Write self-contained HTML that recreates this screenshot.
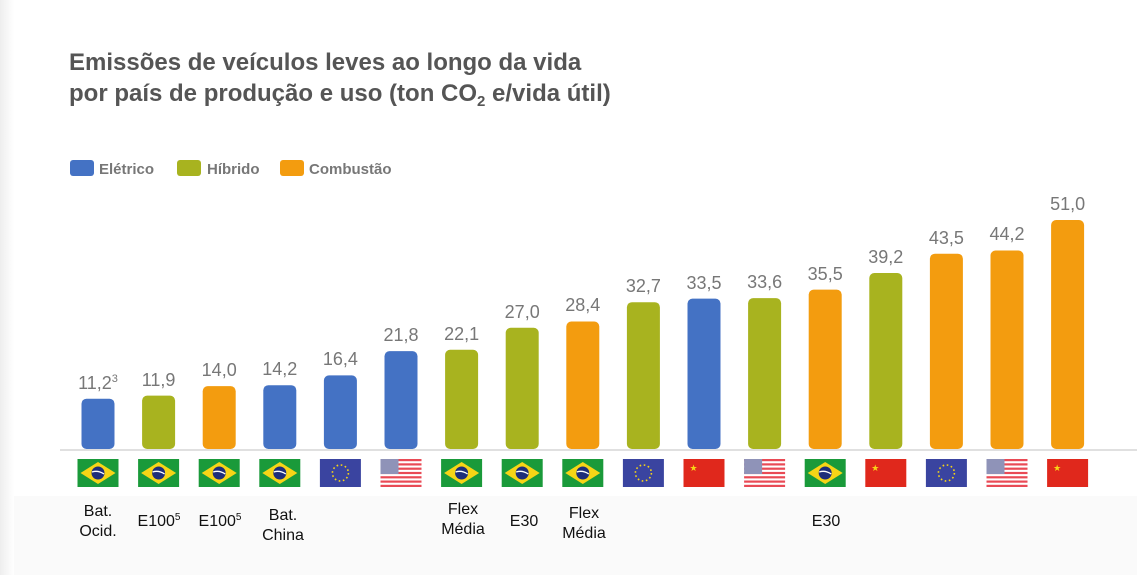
<!DOCTYPE html>
<html><head><meta charset="utf-8"><style>
body{margin:0;background:#fff;width:1137px;height:575px;overflow:hidden;font-family:"Liberation Sans",sans-serif}
</style></head><body>
<svg width="1137" height="575" xmlns="http://www.w3.org/2000/svg" xmlns:xlink="http://www.w3.org/1999/xlink">
<defs>
<linearGradient id="sh" x1="0" x2="1"><stop offset="0" stop-color="#eee"/><stop offset="1" stop-color="#fff"/></linearGradient>
<g id="br"><rect width="41" height="28" fill="#1a9a3a"/><polygon points="20.5,3 38,14 20.5,25 3,14" fill="#f7d516"/><circle cx="20.5" cy="14" r="6.5" fill="#1e2e7a"/><path d="M14.5,13 Q20.5,11 26.5,15" stroke="#fff" stroke-width="1.3" fill="none"/></g>
<g id="eu"><rect width="41" height="28" fill="#3a44a0"/><circle cx="20.5" cy="14" r="8" fill="none" stroke="#f7d516" stroke-width="1.6" stroke-dasharray="1.6 2.6"/></g>
<g id="us"><rect width="41" height="28" fill="#fff"/><g fill="#e94a55"><rect y="0" width="41" height="2.2"/><rect y="4.3" width="41" height="2.2"/><rect y="8.6" width="41" height="2.2"/><rect y="12.9" width="41" height="2.2"/><rect y="17.2" width="41" height="2.2"/><rect y="21.5" width="41" height="2.2"/><rect y="25.8" width="41" height="2.2"/></g><rect width="18" height="15" fill="#8f93b8"/></g>
<g id="cn"><rect width="41" height="28" fill="#e0281c"/><text x="6" y="12" font-size="9" fill="#f7d516">★</text></g>
</defs>
<rect x="0" y="0" width="14" height="575" fill="url(#sh)"/>
<rect x="14" y="496" width="1123" height="79" fill="#fafafa"/>
<text x="69" y="70" font-size="24" font-weight="bold" fill="#555">Emissões de veículos leves ao longo da vida</text>
<text x="69" y="101" font-size="24" font-weight="bold" fill="#555">por país de produção e uso (ton CO<tspan font-size="15" dy="5">2</tspan><tspan dy="-5"> e/vida útil)</tspan></text>
<rect x="70" y="160" width="24" height="16" rx="3" fill="#4472c4"/><text x="99" y="174" font-size="15" font-weight="bold" fill="#777">Elétrico</text>
<rect x="177" y="160" width="24" height="16" rx="3" fill="#a8b31f"/><text x="207" y="174" font-size="15" font-weight="bold" fill="#777">Híbrido</text>
<rect x="280" y="160" width="24" height="16" rx="3" fill="#f39c0f"/><text x="309" y="174" font-size="15" font-weight="bold" fill="#777">Combustão</text>
<line x1="60" y1="450" x2="1137" y2="450" stroke="#d5d5d5" stroke-width="1.5"/>
<g>
<rect x="81.5" y="398.7" width="33" height="50.3" rx="5" fill="#4472c4"/>
<rect x="142.1" y="395.6" width="33" height="53.4" rx="5" fill="#a8b31f"/>
<rect x="202.7" y="386.1" width="33" height="62.9" rx="5" fill="#f39c0f"/>
<rect x="263.3" y="385.2" width="33" height="63.8" rx="5" fill="#4472c4"/>
<rect x="323.9" y="375.4" width="33" height="73.6" rx="5" fill="#4472c4"/>
<rect x="384.5" y="351.1" width="33" height="97.9" rx="5" fill="#4472c4"/>
<rect x="445.1" y="349.8" width="33" height="99.2" rx="5" fill="#a8b31f"/>
<rect x="505.7" y="327.8" width="33" height="121.2" rx="5" fill="#a8b31f"/>
<rect x="566.3" y="321.5" width="33" height="127.5" rx="5" fill="#f39c0f"/>
<rect x="626.9" y="302.2" width="33" height="146.8" rx="5" fill="#a8b31f"/>
<rect x="687.5" y="298.6" width="33" height="150.4" rx="5" fill="#4472c4"/>
<rect x="748.1" y="298.1" width="33" height="150.9" rx="5" fill="#a8b31f"/>
<rect x="808.7" y="289.6" width="33" height="159.4" rx="5" fill="#f39c0f"/>
<rect x="869.3" y="273.0" width="33" height="176.0" rx="5" fill="#a8b31f"/>
<rect x="929.9" y="253.7" width="33" height="195.3" rx="5" fill="#f39c0f"/>
<rect x="990.5" y="250.5" width="33" height="198.5" rx="5" fill="#f39c0f"/>
<rect x="1051.1" y="220.0" width="33" height="229.0" rx="5" fill="#f39c0f"/>
</g>
<g font-size="18" fill="#777" text-anchor="middle">
<text x="98" y="389">11,2<tspan font-size="11" dy="-7">3</tspan></text>
<text x="158.6" y="386">11,9</text>
<text x="219.2" y="376">14,0</text>
<text x="279.8" y="375">14,2</text>
<text x="340.4" y="365">16,4</text>
<text x="401" y="341">21,8</text>
<text x="461.6" y="340">22,1</text>
<text x="522.2" y="318">27,0</text>
<text x="582.8" y="311">28,4</text>
<text x="643.4" y="292">32,7</text>
<text x="704" y="289">33,5</text>
<text x="764.6" y="288">33,6</text>
<text x="825.2" y="280">35,5</text>
<text x="885.8" y="263">39,2</text>
<text x="946.4" y="244">43,5</text>
<text x="1007" y="240">44,2</text>
<text x="1067.6" y="210">51,0</text>
</g>
<use xlink:href="#br" x="77.5" y="459"/>
<use xlink:href="#br" x="138.1" y="459"/>
<use xlink:href="#br" x="198.7" y="459"/>
<use xlink:href="#br" x="259.3" y="459"/>
<use xlink:href="#eu" x="319.9" y="459"/>
<use xlink:href="#us" x="380.5" y="459"/>
<use xlink:href="#br" x="441.1" y="459"/>
<use xlink:href="#br" x="501.7" y="459"/>
<use xlink:href="#br" x="562.3" y="459"/>
<use xlink:href="#eu" x="622.9" y="459"/>
<use xlink:href="#cn" x="683.5" y="459"/>
<use xlink:href="#us" x="744.1" y="459"/>
<use xlink:href="#br" x="804.7" y="459"/>
<use xlink:href="#cn" x="865.3" y="459"/>
<use xlink:href="#eu" x="925.9" y="459"/>
<use xlink:href="#us" x="986.5" y="459"/>
<use xlink:href="#cn" x="1047.1" y="459"/>
<g font-size="16" fill="#111" text-anchor="middle">
<text x="98" y="516">Bat.</text><text x="98" y="536">Ocid.</text>
<text x="159" y="526">E100<tspan font-size="10" dy="-6">5</tspan></text>
<text x="220" y="526">E100<tspan font-size="10" dy="-6">5</tspan></text>
<text x="283" y="520">Bat.</text><text x="283" y="540">China</text>
<text x="463" y="514">Flex</text><text x="463" y="534">Média</text>
<text x="524" y="526">E30</text>
<text x="584" y="518">Flex</text><text x="584" y="538">Média</text>
<text x="826" y="526">E30</text>
</g>
</svg>
</body></html>
